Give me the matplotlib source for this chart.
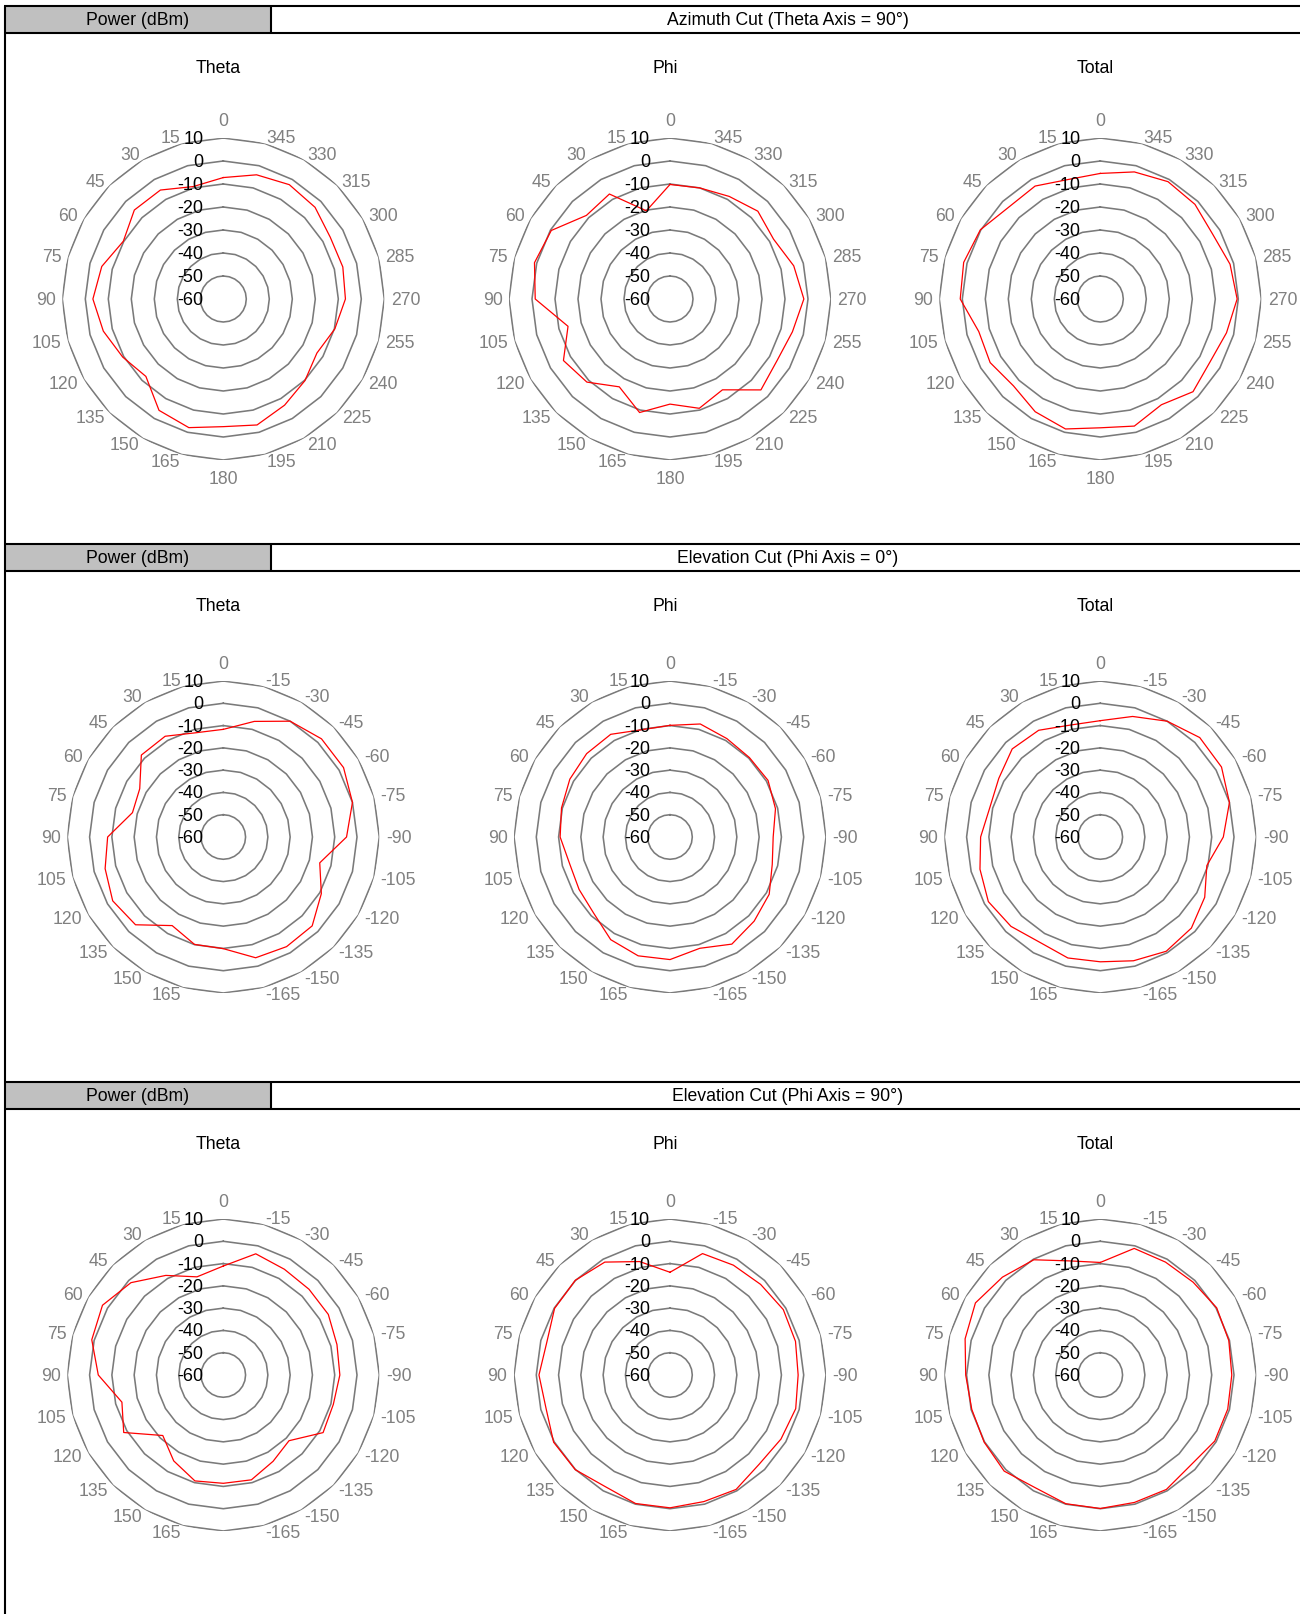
import numpy as np
import matplotlib
matplotlib.use("Agg")
import matplotlib.pyplot as plt
from matplotlib.patches import Rectangle
from matplotlib.transforms import ScaledTranslation

plt.rcParams['font.family'] = ['Liberation Sans', 'DejaVu Sans']

# ---- data (dBm), one value per 15 deg step, counter-clockwise from the top ----
az_labels = [str(a) for a in range(0, 360, 15)]
el_labels = [str(a) for a in range(0, 180, 15)] + [''] + [str(a) for a in range(-165, 0, 15)]

az_theta = [-7.2, -9.4, -5.3, -5.3, -9.8, -5.3, -3.3, -6.0, -9.5, -12.4, -4.1, -2.1,
            -4.5, -3.3, -6.7, -9.8, -13.0, -9.8, -6.9, -6.2, -6.3, -3.6, -2.6, -4.1]
az_phi = [-10.2, -20.3, -7.3, -8.6, -0.4, 1.0, -1.4, -14.1, -6.5, -8.9, -15.9, -8.9,
          -14.3, -10.8, -14.4, -4.1, -6.3, -4.9, -1.8, -4.3, -8.0, -6.0, -8.5, -10.0]
az_total = [-5.4, -6.2, -3.3, -3.6, 0.2, 1.5, 0.9, -5.3, -4.7, -6.6, -3.4, -1.5,
            -4.0, -2.8, -6.9, -3.0, -5.0, -3.2, -0.5, -1.6, -3.6, -1.8, -1.1, -2.8]

el0_theta = [-11.7, -11.6, -7.8, -8.0, -16.7, -17.8, -8.1, -5.1, -2.7, -4.3, -14.1, -10.1,
             -9.9, -3.9, -3.2, -3.6, -9.2, -15.2, -4.7, 0.0, 2.3, 2.3, 0.0, -6.3]
el0_phi = [-9.9, -10.2, -6.8, -7.1, -8.1, -9.6, -10.7, -13.4, -12.9, -11.6, -6.8, -4.8,
           -5.0, -8.3, -4.5, -6.6, -8.6, -12.5, -13.7, -11.0, -9.2, -9.6, -9.0, -7.5]
el0_total = [-7.8, -8.0, -4.7, -4.1, -7.4, -8.7, -6.3, -4.1, -2.0, -3.3, -5.5, -3.8,
             -4.0, -2.5, -0.8, -2.2, -5.9, -10.5, -4.8, 0.0, 2.8, 3.1, 0.0, -4.0]

el90_theta = [-11.1, -14.4, -8.4, -1.4, 2.6, 1.1, -3.9, -12.9, -8.4, -21.6, -15.5, -10.8,
              -11.4, -11.3, -15.3, -18.3, -8.3, -8.9, -7.7, -7.2, -5.6, -5.6, -5.2, -3.7]
el90_phi = [-13.9, -7.3, -1.5, 0.1, -0.2, -2.8, -1.2, -2.4, 0.3, 0.1, -2.1, -0.3,
            -0.4, -1.2, -0.7, -3.4, -2.5, -1.6, -2.5, -1.7, -1.3, -2.5, -3.1, -3.6]
el90_total = [-9.5, -7.0, -0.3, 2.1, 4.7, 2.8, 0.4, -0.3, 0.2, 1.0, -1.6, -0.2,
              -0.1, -0.8, -0.7, -2.7, -0.7, -0.8, -1.0, -0.3, 0.3, -1.1, -1.5, -1.2]

ring_levels = [10, 0, -10, -20, -30, -40, -50, -60]
r_min, r_max = -60, 10

panels = [
    ("Azimuth Cut (Theta Axis = 90°)", az_labels, [az_theta, az_phi, az_total]),
    ("Elevation Cut (Phi Axis = 0°)", el_labels, [el0_theta, el0_phi, el0_total]),
    ("Elevation Cut (Phi Axis = 90°)", el_labels, [el90_theta, el90_phi, el90_total]),
]
sub_titles = ["Theta", "Phi", "Total"]

# ---- layout in pixels ----
W, H = 1300, 1614
fig = plt.figure(figsize=(W / 100, H / 100), dpi=100)

bg = fig.add_axes([0, 0, 1, 1])
bg.set_xlim(0, W)
bg.set_ylim(H, 0)
bg.axis('off')
bg.set_zorder(-5)

FS = 12.7
grid_col = '#7a7a7a'
row_h = 538
centers_x = [223.3, 670.0, 1100.3]
title_x = [218, 665, 1095]

for row, (head, labels, series) in enumerate(panels):
    top = 5.7 + row * row_h
    bot = top + 27
    bg.add_patch(Rectangle((4.7, top), 271 - 4.7, bot - top, facecolor='#c0c0c0',
                           edgecolor='none'))
    bg.hlines([top, bot], 3.7, W, color='black', lw=1.5)
    bg.vlines(271, top, bot, color='black', lw=1.5)
    bg.text(138, (top + bot) / 2 + 1, "Power (dBm)", ha='center', va='center', fontsize=FS)
    bg.text(788, (top + bot) / 2 + 1, head, ha='center', va='center', fontsize=FS)

    R = 161 if row == 0 else 156
    cy = top + 293.3
    n = len(labels)
    theta = np.deg2rad(np.arange(n) * 15.0)
    theta_c = np.append(theta, theta[0])
    r_lab = r_max + 6.5 / R * (r_max - r_min)
    r_lab_v = r_max + 9.5 / R * (r_max - r_min)

    for k in range(3):
        bg.text(title_x[k], top + 63, sub_titles[k], ha='center', va='center', fontsize=FS)
        cx = centers_x[k]
        ax = fig.add_axes([(cx - R) / W, 1 - (cy + R) / H, 2 * R / W, 2 * R / H],
                          projection='polar')
        ax.set_theta_zero_location('N')
        ax.set_theta_direction(1)
        ax.set_ylim(r_min, r_max)
        ax.grid(False)
        ax.set_xticks([])
        ax.set_yticks([])
        ax.spines['polar'].set_visible(False)
        ax.patch.set_alpha(0)

        for lev in ring_levels:
            ax.plot(theta_c, np.full(len(theta_c), lev), color=grid_col, lw=1.15, zorder=1)

        vals = series[k]
        ax.plot(theta_c, np.append(vals, vals[0]), color='red', lw=0.9, zorder=3)

        # angle labels
        down = ax.transData + ScaledTranslation(0, -1.5 / 100, fig.dpi_scale_trans)
        for t, lab in zip(theta, labels):
            sx = -np.sin(t)
            rr = r_lab
            if abs(sx) < 1e-6:
                ha = 'center'
                va = 'bottom' if np.cos(t) > 0 else 'top'
                rr = r_lab_v
            else:
                ha = 'left' if sx > 0 else 'right'
                va = 'center'
            ax.text(t, rr, lab, ha=ha, va=va, fontsize=FS, color='#808080',
                    clip_on=False, transform=down)

        # radial value labels
        off = ax.transData + ScaledTranslation(-20 / 100, -1.5 / 100, fig.dpi_scale_trans)
        for lev in ring_levels:
            ax.text(0, lev, str(lev), transform=off, ha='right', va='center',
                    fontsize=FS + 0.3, color='black', zorder=4)

# left border of the sheet
bg.vlines(4.7, 5.7, H, color='black', lw=1.5)

fig.savefig("out.png", dpi=100)
